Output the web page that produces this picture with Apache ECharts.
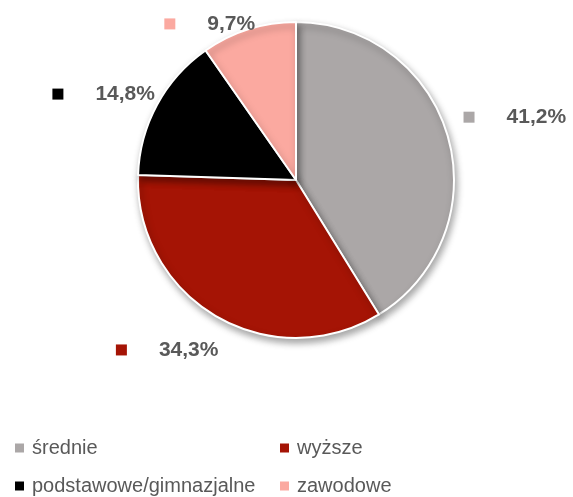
<!DOCTYPE html>
<html>
<head>
<meta charset="utf-8">
<script src="https://cdn.jsdelivr.net/npm/echarts@6/dist/echarts.min.js"></script>
<style>
  html, body { margin: 0; padding: 0; background: #fff; }
  #chart { width: 573px; height: 497px; }
</style>
</head>
<body>
<div id="chart"></div>
<script>
// wykształcenie - udział (%)
var categories = ['średnie', 'wyższe', 'podstawowe/gimnazjalne', 'zawodowe'];
var values = [41.2, 34.3, 14.8, 9.7];
var colors = ['#aba7a7', '#a51405', '#000000', '#fba9a0'];

var FONT = "'Liberation Sans', Arial, sans-serif";
var cx = 296, cy = 180, R = 158;

// przesunięcia etykiet względem reguły (jak w Excelu)
var labelNudge = [[4, -13], [-17, 12], [4, 1], [-21, 18]];
// pozycje legendy: [left, top]
var legendPos = [[13, 438], [278, 438], [13, 476], [278, 476]];

var total = values.reduce(function (a, b) { return a + b; }, 0);

// środkowy kąt wycinka (od góry, zgodnie z ruchem wskazówek)
function midAngle(i) {
    var before = 0;
    for (var k = 0; k < i; k++) before += values[k];
    return (before + values[i] / 2) / total * Math.PI * 2;
}

var myChart = echarts.init(document.getElementById('chart'));

var pieData = categories.map(function (name, i) {
    return {
        name: name,
        value: values[i],
        itemStyle: { color: colors[i] },
        label: {
            rich: {
                m: { width: 11, height: 11, backgroundColor: colors[i] }
            }
        }
    };
});

var legends = categories.map(function (name, i) {
    return {
        left: legendPos[i][0], top: legendPos[i][1], padding: 0,
        icon: 'rect', itemWidth: 11, itemHeight: 11,
        data: [name],
        textStyle: { fontFamily: FONT, fontSize: 20, color: '#595959', padding: [0, 0, 0, 2] }
    };
});

myChart.setOption({
    animation: false,
    backgroundColor: '#fff',
    legend: legends,
    series: [{
        type: 'pie',
        center: [cx, cy],
        radius: R,
        startAngle: 90,
        clockwise: true,
        avoidLabelOverlap: false,
        itemStyle: {
            borderColor: '#fff',
            borderWidth: 2,
            shadowColor: 'rgba(0,0,0,0.35)',
            shadowBlur: 7,
            shadowOffsetX: 2,
            shadowOffsetY: 4
        },
        label: {
            show: true,
            position: 'outside',
            overflow: 'none',
            edgeDistance: 0,
            formatter: function (p) {
                return '{m|}{g|}{v|' + p.value.toFixed(1).replace('.', ',') + '%}';
            },
            rich: {
                g: { width: 32 },
                v: { fontFamily: FONT, fontSize: 21, fontWeight: 'bold', color: '#595959' }
            }
        },
        labelLine: { show: false },
        labelLayout: function (params) {
            var i = params.dataIndex;
            var a = midAngle(i);
            var dx = Math.sin(a), dy = -Math.cos(a);
            var w = params.labelRect.width, h = params.labelRect.height;
            var gap = 14;
            var px = cx + (R + gap) * dx, py = cy + (R + gap) * dy;
            return {
                x: px + dx * w / 2 + labelNudge[i][0],
                y: py + dy * h / 2 + labelNudge[i][1],
                align: 'center',
                verticalAlign: 'middle'
            };
        },
        data: pieData
    }]
});
</script>
</body>
</html>
